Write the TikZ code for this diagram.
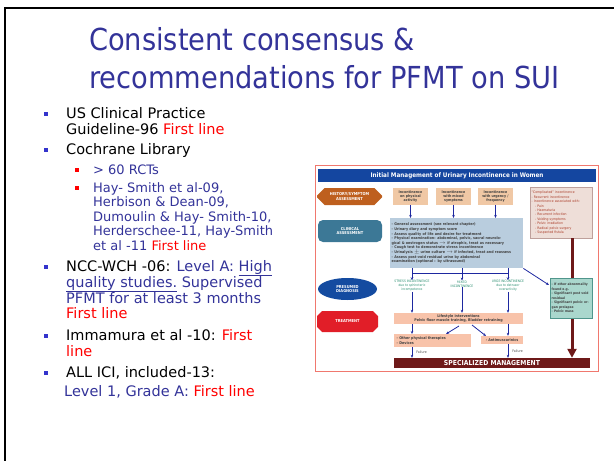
\documentclass[tikz,border=0pt]{standalone}
\usepackage{fontspec}
\setmainfont{DejaVu Sans Condensed}
\newfontfamily\bodyfont{DejaVu Sans}
\usepackage{xcolor}
\usetikzlibrary{shapes.geometric,shapes.misc,arrows.meta,positioning}
\definecolor{titleblue}{RGB}{51,51,153}
\definecolor{subblue}{RGB}{51,51,153}
\definecolor{bulletblue}{RGB}{51,51,204}
\definecolor{firstred}{RGB}{255,0,0}
\definecolor{framered}{RGB}{240,120,110}
\definecolor{headblue}{RGB}{20,70,160}
\definecolor{histbrown}{RGB}{190,95,30}
\definecolor{clinteal}{RGB}{60,120,150}
\definecolor{diagblue}{RGB}{20,75,160}
\definecolor{treatred}{RGB}{225,30,40}
\definecolor{beige}{RGB}{240,200,165}
\definecolor{complfill}{RGB}{238,222,216}
\definecolor{compldraw}{RGB}{190,160,155}
\definecolor{compltext}{RGB}{170,60,40}
\definecolor{clinfill}{RGB}{185,205,222}
\definecolor{arrowblue}{RGB}{30,40,160}
\definecolor{diaggreen}{RGB}{40,140,110}
\definecolor{salmon}{RGB}{248,195,170}
\definecolor{maroon}{RGB}{110,25,25}
\definecolor{abnfill}{RGB}{170,215,205}
\definecolor{abndraw}{RGB}{80,150,140}
\tikzset{
  titletext/.style={anchor=base west,inner sep=0pt,text=titleblue,font=\fontsize{30.3}{36}\selectfont},
  maintext/.style={anchor=base west,inner sep=0pt,font=\bodyfont\fontsize{14.5}{16}\selectfont},
  subtext/.style={anchor=base west,inner sep=0pt,text=subblue,font=\bodyfont\fontsize{13}{14}\selectfont},
  bulletsq/.style={fill=bulletblue,inner sep=0pt,minimum size=4pt},
  subbullet/.style={fill=firstred,inner sep=0pt,minimum size=3.5pt},
  labelbox/.style={inner sep=0pt,align=center,text=white,font=\fontsize{4}{4.8}\selectfont\bfseries},
  histbox/.style={labelbox,chamfered rectangle,chamfered rectangle xsep=4pt,fill=histbrown},
  incbox/.style={inner sep=0pt,align=center,fill=beige,minimum width=35pt,minimum height=17pt,font=\fontsize{3.6}{4.2}\selectfont\bfseries,text=black!75},
  smallbox/.style={inner sep=1.5pt,align=left,font=\fontsize{3.7}{4.6}\selectfont\bfseries,text=black!75},
  diagtext/.style={inner sep=0pt,align=center,text=diaggreen,font=\fontsize{3.3}{4}\selectfont},
  bluearr/.style={-{Stealth[length=3pt,width=2.5pt]},thick,color=arrowblue},
  blueline/.style={thick,color=arrowblue},
  failtext/.style={inner sep=0pt,font=\fontsize{3.5}{4}\selectfont,text=black!70}
}
\newcommand{\fl}{\textcolor{firstred}{First line}}

\begin{document}
\begin{tikzpicture}[x=1pt,y=-1pt]
  \useasboundingbox (0,0) rectangle (614,461);
  % slide frame
  \coordinate (frameTL) at (5,8);
  \coordinate (frameBL) at (5,462);
  \coordinate (frameTR) at (615,8);
  \draw[line width=2pt] (frameBL) -- (frameTL) -- (frameTR);

  % title
  \node[titletext] (title1) at (89,50) {Consistent consensus \&};
  \node[titletext] (title2) at (89,88) {recommendations for PFMT on SUI};

  % bullet list
  \node[bulletsq] (b1) at (46,114) {};
  \node[maintext] (us1) at (66,118) {US Clinical Practice};
  \node[maintext] (us2) at (66,134) {Guideline-96 \fl};
  \node[bulletsq] (b2) at (46,150) {};
  \node[maintext] (coch) at (66,154) {Cochrane Library};
  \node[subbullet] (s1) at (77,170) {};
  \node[subtext] (rct) at (93,174) {> 60 RCTs};
  \node[subbullet] (s2) at (77,188) {};
  \node[subtext] (hay1) at (93,192) {Hay- Smith et al-09,};
  \node[subtext] (hay2) at (93,206.5) {Herbison \& Dean-09,};
  \node[subtext] (hay3) at (93,221) {Dumoulin \& Hay- Smith-10,};
  \node[subtext] (hay4) at (93,235.5) {Herderschee-11, Hay-Smith};
  \node[subtext] (hay5) at (93,250) {et al -11 \fl};
  \node[bulletsq] (b3) at (46,267) {};
  \node[maintext] (ncc1) at (66,271) {NCC-WCH -06: \textcolor{subblue}{Level A: \underline{High}}};
  \node[maintext,text=subblue] (ncc2) at (66,287) {\underline{quality studies.} Supervised};
  \node[maintext,text=subblue] (ncc3) at (66,303) {PFMT for at least 3 months};
  \node[maintext] (ncc4) at (66,318) {\fl};
  \node[bulletsq] (b4) at (46,336) {};
  \node[maintext] (imm1) at (66,340) {Immamura et al -10: \textcolor{firstred}{First}};
  \node[maintext,text=firstred] (imm2) at (66,356) {line};
  \node[bulletsq] (b5) at (46,373) {};
  \node[maintext] (ici1) at (66,377) {ALL ICI, included-13:};
  \node[maintext,text=subblue] (ici2) at (64,396) {Level 1, Grade A: \fl};

  % flowchart
  \node[draw=framered,line width=1pt,minimum width=283pt,minimum height=206pt,inner sep=0pt] (chart) at (456.5,268) {};
  \node[fill=headblue,minimum width=278pt,minimum height=13pt,inner sep=0pt,text=white,
        font=\fontsize{6.3}{7}\selectfont\bfseries] (header) at (457,175.5)
      {Initial Management of Urinary Incontinence in Women};

  \node[histbox,minimum width=65pt,minimum height=17pt] (hist) at (349.5,196.5) {HISTORY/SYMPTOM\\ASSESSMENT};
  \node[labelbox,rectangle,rounded corners=5pt,fill=clinteal,minimum width=64pt,minimum height=22pt] (clin) at (350,231) {CLINICAL\\ASSESSMENT};
  \node[labelbox,ellipse,fill=diagblue,minimum width=59pt,minimum height=22pt] (diag) at (347.5,289) {PRESUMED\\DIAGNOSIS};
  \node[histbox,fill=treatred,minimum width=61pt,minimum height=21pt] (treat) at (347.5,321.5) {TREATMENT};

  \node[incbox] (inc1) at (410.5,196.5) {Incontinence\\on physical\\activity};
  \node[incbox] (inc2) at (453.5,196.5) {Incontinence\\with mixed\\symptoms};
  \node[incbox] (inc3) at (495.5,196.5) {Incontinence\\with urgency /\\frequency};

  \node[smallbox,fill=complfill,draw=compldraw,text=compltext,minimum width=62pt,minimum height=51pt,
        anchor=north west,font=\fontsize{3.4}{4.4}\selectfont,text width=59pt] (compl) at (530,187)
      {``Complicated'' incontinence\\
       - Recurrent incontinence\\
       - Incontinence associated with:\\
       \quad - Pain\\
       \quad - Haematuria\\
       \quad - Recurrent infection\\
       \quad - Voiding symptoms\\
       \quad - Pelvic irradiation\\
       \quad - Radical pelvic surgery\\
       \quad - Suspected fistula};

  \node[smallbox,fill=clinfill,minimum width=133pt,minimum height=50pt,anchor=north west,text width=130pt] (assess) at (390,218)
      {- General assessment (see relevant chapter)\\
       - Urinary diary and symptom score\\
       - Assess quality of life and desire for treatment\\
       - Physical examination: abdominal, pelvic, sacral neurolo-\\
       gical \& oestrogen status $\to$ if atrophic, treat as necessary\\
       - Cough test to demonstrate stress incontinence\\
       - Urinalysis $\pm$ urine culture $\to$ if infected, treat and reassess\\
       - Assess post-void residual urine by abdominal\\
       examination (optional : by ultrasound)};

  \draw[bluearr] (inc1.south) -- (inc1.south |- assess.north);
  \draw[bluearr] (inc2.south) -- (inc2.south |- assess.north);
  \draw[bluearr] (inc3.south) -- (inc3.south |- assess.north);

  \node[diagtext] (stress) at (412,286) {STRESS INCONTINENCE\\due to sphincteric\\incompetence};
  \node[diagtext] (mixed) at (462,284) {MIXED\\INCONTINENCE};
  \node[diagtext] (urge) at (508,286) {URGE INCONTINENCE\\due to detrusor\\overactivity};

  \coordinate (barL) at (412,273);
  \coordinate (barR) at (508,273);
  \draw[blueline] (barL) -- (barR);
  \draw[bluearr] (assess.south -| stress.north) -- (stress.north);
  \draw[bluearr] (assess.south -| mixed.north) -- (mixed.north);
  \draw[bluearr] (assess.south -| urge.north) -- (urge.north);

  \node[smallbox,fill=salmon,minimum width=129pt,minimum height=11pt,inner sep=0pt,align=center] (life) at (458.5,318.5)
      {Lifestyle interventions\\Pelvic floor muscle training, Bladder retraining};
  \draw[bluearr] (stress.south) -- (stress.south |- life.north);
  \draw[bluearr] (mixed.south) -- (mixed.south |- life.north);
  \draw[bluearr] (urge.south) -- (urge.south |- life.north);

  \node[smallbox,fill=salmon,minimum width=77pt,minimum height=13pt,anchor=north west,text width=72pt] (other) at (394,334)
      {- Other physical therapies\\- Devices};
  \node[smallbox,fill=salmon,minimum width=42pt,minimum height=8pt,inner sep=0pt,align=center] (anti) at (502,340) {- Antimuscarinics};

  \draw[bluearr] (life.south -| stress.south) -- (other.north -| stress.south);
  \draw[bluearr] (life.south -| urge.south) -- (anti.north -| urge.south);
  \coordinate (lifeA) at (459,326);
  \coordinate (otherIn) at (446,334);
  \coordinate (lifeB) at (472,325);
  \coordinate (antiIn) at (486,336);
  \draw[bluearr] (lifeA) -- (otherIn);
  \draw[bluearr] (lifeB) -- (antiIn);

  \node[fill=maroon,minimum width=196pt,minimum height=10pt,inner sep=0pt,text=white,
        font=\fontsize{6.8}{7}\selectfont\bfseries] (spec) at (492,363) {SPECIALIZED MANAGEMENT};

  \draw[bluearr] (other.south -| stress.south) -- (spec.north -| stress.south)
    node[midway,right=4pt,failtext] (fail1) {Failure};
  \draw[bluearr] (anti.south -| urge.south) -- (spec.north -| urge.south)
    node[midway,right=4pt,failtext] (fail2) {Failure};

  % complicated pathway
  \draw[maroon,line width=3pt,-{Triangle[length=9pt,width=9pt]}] (compl.south -| 572,0) -- (spec.north -| 572,0);

  \node[smallbox,fill=abnfill,draw=abndraw,minimum width=42pt,minimum height=40pt,anchor=north west,
        font=\fontsize{3.3}{4.5}\selectfont\bfseries,text width=39pt] (abn) at (550,278)
      {- If other abnormality found e.g.\\
       - Significant post void residual\\
       - Significant pelvic organ prolapse\\
       - Pelvic mass};
  \coordinate (abnIn) at (549,285);
  \draw[bluearr] (assess.south east) -- (abnIn);
\end{tikzpicture}
\end{document}
